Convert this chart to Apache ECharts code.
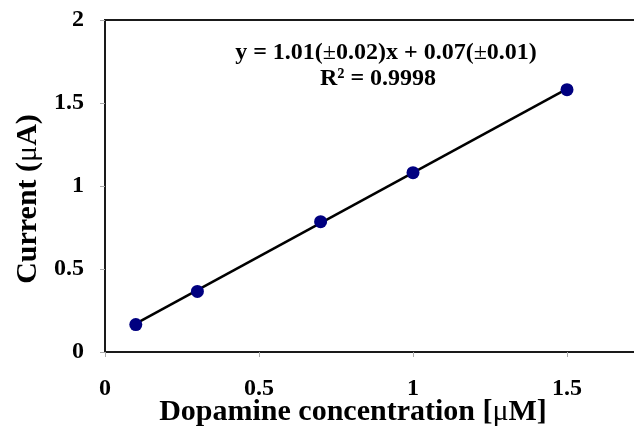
<!DOCTYPE html>
<html>
<head>
<meta charset="utf-8">
<script src="https://cdn.jsdelivr.net/npm/echarts@6/dist/echarts.min.js"></script>
<style>
  html, body { margin: 0; padding: 0; background: #fff; overflow: hidden; }
  #frame { width: 634px; height: 432px; overflow: hidden; position: relative; }
  #chart { width: 760px; height: 432px; position: absolute; left: 0; top: 0; }
</style>
</head>
<body>
<div id="frame"><div id="chart"></div></div>
<script>
// Calibration data: dopamine concentration (µM) vs. peak current (µA)
const concentration = [0.1, 0.3, 0.7, 1.0, 1.5];
const current = [0.165, 0.365, 0.785, 1.08, 1.58];

// Least-squares fit endpoints (y = 1.01x + 0.07)
const fitX = [0.1, 1.5];
const fitY = [0.171, 1.585];

const xTicks = [0, 0.5, 1, 1.5, 2];
const yTicks = [0, 0.5, 1, 1.5, 2];

const serif = '"Liberation Serif", "Times New Roman", serif';

const chart = echarts.init(document.getElementById('chart'));

const pair = (xs, ys) => xs.map((x, i) => [x, ys[i]]);

// Bold serif text with the Greek / symbol glyphs in regular weight
const rich = size => ({
  b: { fontFamily: serif, fontWeight: 'bold', fontSize: size, fill: '#000' },
  n: { fontFamily: serif, fontWeight: 'normal', fontSize: size, fill: '#000' }
});

chart.setOption({
  animation: false,
  grid: {
    left: 105, top: 20, width: 616, height: 332,
    show: true, borderColor: '#1a1a1a', borderWidth: 2, backgroundColor: 'transparent'
  },
  xAxis: {
    type: 'value',
    min: xTicks[0], max: xTicks[xTicks.length - 1], interval: 0.5,
    axisLine: { lineStyle: { color: '#1a1a1a', width: 2 } },
    axisTick: { show: true, length: 5, lineStyle: { color: '#aaa', width: 1 } },
    splitLine: { show: false },
    axisLabel: {
      margin: 25,
      color: '#000', fontFamily: serif, fontWeight: 'bold', fontSize: 24,
      formatter: v => String(v)
    }
  },
  yAxis: {
    type: 'value',
    min: yTicks[0], max: yTicks[yTicks.length - 1], interval: 0.5,
    axisLine: { lineStyle: { color: '#1a1a1a', width: 2 } },
    axisTick: { show: true, length: 5, lineStyle: { color: '#aaa', width: 1 } },
    splitLine: { show: false },
    axisLabel: {
      margin: 21,
      color: '#000', fontFamily: serif, fontWeight: 'bold', fontSize: 24,
      formatter: v => String(v)
    }
  },
  series: [
    {
      type: 'line',
      data: pair(fitX, fitY),
      symbol: 'none',
      lineStyle: { color: '#000', width: 2.5 },
      z: 2
    },
    {
      type: 'scatter',
      data: pair(concentration, current),
      symbol: 'circle',
      symbolSize: 13,
      itemStyle: { color: '#000080', opacity: 1 },
      z: 3
    }
  ],
  graphic: [
    {
      type: 'text', x: 353, y: 412,
      style: {
        text: '{b|Dopamine concentration [}{n|\u03bc}{b|M]}',
        rich: rich(30), align: 'center', verticalAlign: 'middle'
      }
    },
    {
      type: 'text', x: 28, y: 199, rotation: Math.PI / 2,
      style: {
        text: '{b|Current (}{n|\u03bc}{b|A)}',
        rich: rich(30), align: 'center', verticalAlign: 'middle'
      }
    },
    {
      type: 'text', x: 386, y: 53,
      style: {
        text: '{b|y = 1.01(}{n|\u00b1}{b|0.02)x + 0.07(}{n|\u00b1}{b|0.01)}',
        rich: rich(24), align: 'center', verticalAlign: 'middle'
      }
    },
    {
      type: 'text', x: 378, y: 79,
      style: {
        text: '{b|R\u00b2 = 0.9998}',
        rich: rich(24), align: 'center', verticalAlign: 'middle'
      }
    }
  ]
});
</script>
</body>
</html>
